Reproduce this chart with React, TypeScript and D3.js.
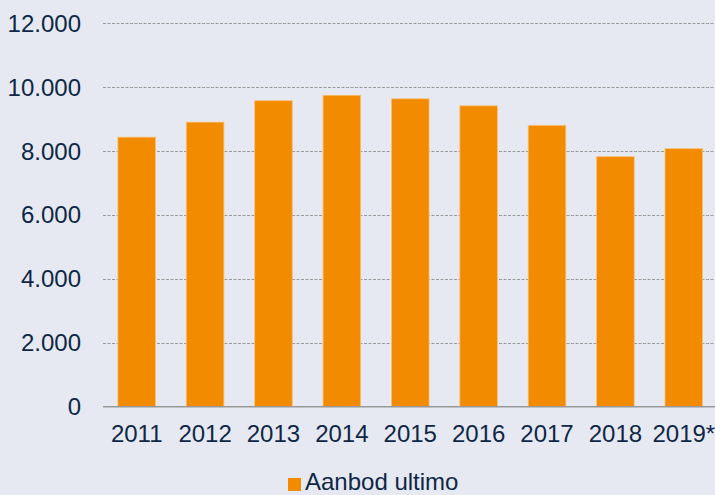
import { useEffect, useRef } from "react";
import * as d3 from "d3";

const years = ["2011", "2012", "2013", "2014", "2015", "2016", "2017", "2018", "2019*"];
const aanbod = [8430, 8900, 9570, 9740, 9630, 9410, 8800, 7820, 8070];
const yTicks = [0, 2000, 4000, 6000, 8000, 10000, 12000];
const seriesName = "Aanbod ultimo";

const W = 715;
const H = 495;

export default function App() {
  const ref = useRef<SVGSVGElement | null>(null);

  useEffect(() => {
    if (!ref.current) return;
    const svg = d3.select(ref.current);
    svg.selectAll("*").remove();

    const font = "Liberation Sans, Arial, sans-serif";
    const textColor = "#0f2746";
    const margin = { top: 23, left: 103, bottom: 89 };

    svg.append("rect").attr("width", W).attr("height", H).attr("fill", "#e6e9f1");

    const x = d3.scaleBand()
      .domain(years)
      .range([102.5, 718])
      .paddingInner(0.45)
      .paddingOuter(0.225);

    const y = d3.scaleLinear()
      .domain([0, 12000])
      .range([H - margin.bottom + 0.7, margin.top]);

    // gridlines
    svg.append("g")
      .selectAll("line")
      .data(yTicks.filter(t => t > 0))
      .enter()
      .append("line")
      .attr("x1", margin.left)
      .attr("x2", W)
      .attr("y1", d => Math.round(y(d)) + 0.5)
      .attr("y2", d => Math.round(y(d)) + 0.5)
      .attr("stroke", "#9a9a9a")
      .attr("stroke-width", 1)
      .attr("stroke-dasharray", "3,1.5");

    // bars
    svg.append("g")
      .selectAll("rect")
      .data(aanbod)
      .enter()
      .append("rect")
      .attr("x", (_, i) => x(years[i])!)
      .attr("width", x.bandwidth())
      .attr("y", d => y(d))
      .attr("height", d => y(0) - y(d))
      .attr("fill", "#f38b00")
      .attr("stroke", "#f6c27d")
      .attr("stroke-width", 0.8);

    // baseline
    svg.append("line")
      .attr("x1", margin.left)
      .attr("x2", W)
      .attr("y1", y(0))
      .attr("y2", y(0))
      .attr("stroke", "#9a9a9a")
      .attr("stroke-width", 1.5);

    // y tick labels
    svg.append("g")
      .selectAll("text")
      .data(yTicks)
      .enter()
      .append("text")
      .attr("x", 81)
      .attr("y", d => y(d))
      .attr("dy", "0.36em")
      .attr("text-anchor", "end")
      .attr("font-family", font)
      .attr("font-size", 24)
      .attr("fill", textColor)
      .text(d => d3.format(",")(d).replace(/,/g, "."));

    // x labels
    svg.append("g")
      .selectAll("text")
      .data(years)
      .enter()
      .append("text")
      .attr("x", d => x(d)! + x.bandwidth() / 2)
      .attr("y", 442)
      .attr("text-anchor", "middle")
      .attr("font-family", font)
      .attr("font-size", 24)
      .attr("fill", textColor)
      .text(d => d);

    // legend
    const legend = svg.append("g");
    legend.append("rect")
      .attr("x", 288)
      .attr("y", 478)
      .attr("width", 13)
      .attr("height", 13)
      .attr("fill", "#f38b00");
    legend.append("text")
      .attr("x", 305)
      .attr("y", 490)
      .attr("font-family", font)
      .attr("font-size", 24)
      .attr("fill", textColor)
      .text(seriesName);
  }, []);

  return (
    <div style={{ position: "fixed", left: 0, top: 0 }}>
      <svg ref={ref} width={W} height={H} style={{ display: "block" }} />
    </div>
  );
}
